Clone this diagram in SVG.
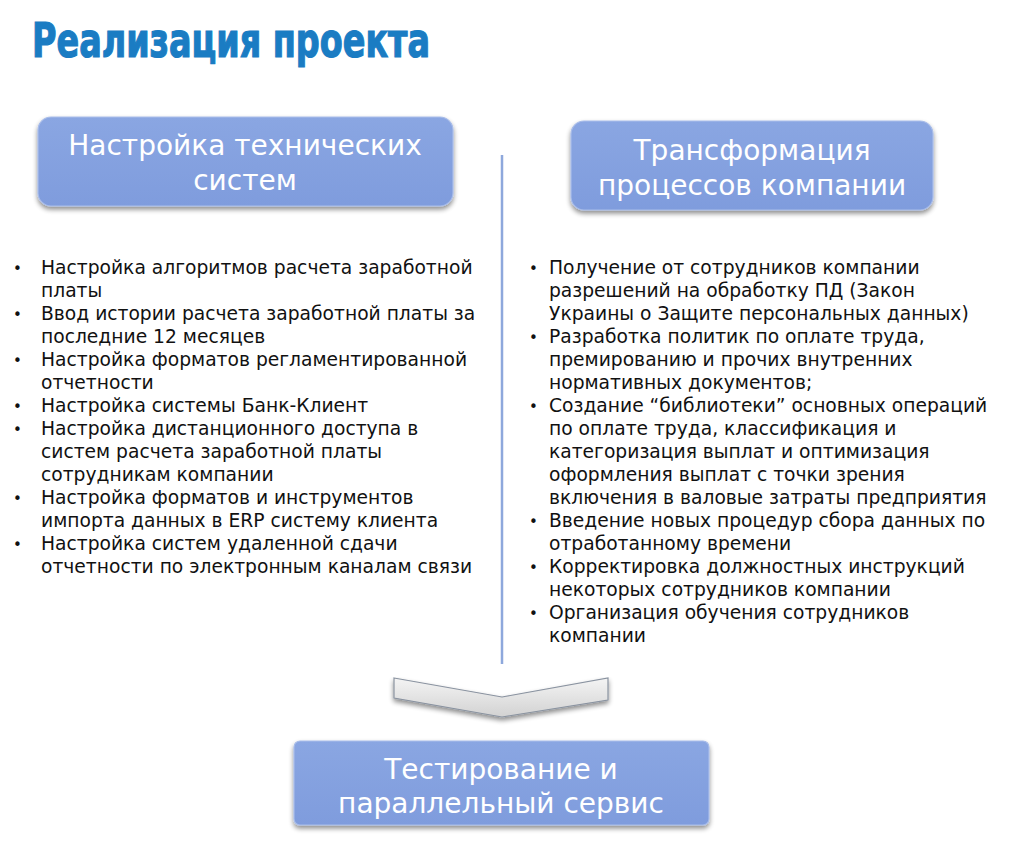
<svg xmlns="http://www.w3.org/2000/svg" width="1024" height="846" viewBox="0 0 1024 846">
<style>
.box{fill:url(#boxg);stroke:#a9bde9;stroke-width:1.2}
.bt{font-family:"DejaVu Sans","Verdana",sans-serif;font-size:28px;fill:#ffffff;text-anchor:middle}
.li{font-family:"DejaVu Sans","Verdana",sans-serif;font-size:18.7px;fill:#111111}
.bu{font-family:"DejaVu Sans",sans-serif;font-size:15px;fill:#111111}
</style>
<defs>
<linearGradient id="boxg" x1="0" y1="0" x2="0" y2="1">
<stop offset="0" stop-color="#8aa6e2"/>
<stop offset="1" stop-color="#7f9cdd"/>
</linearGradient>
<linearGradient id="chev" x1="0" y1="0" x2="0" y2="1">
<stop offset="0" stop-color="#f4f4f4"/>
<stop offset="1" stop-color="#d2d2d2"/>
</linearGradient>
<filter id="sh" x="-10%" y="-10%" width="120%" height="140%">
<feGaussianBlur in="SourceAlpha" stdDeviation="2.5"/>
<feOffset dx="0" dy="3" result="b"/>
<feComponentTransfer><feFuncA type="linear" slope="0.45"/></feComponentTransfer>
<feMerge><feMergeNode/><feMergeNode in="SourceGraphic"/></feMerge>
</filter>
</defs>
<rect width="1024" height="846" fill="#ffffff"/>
<text x="32" y="57" font-family="DejaVu Sans Condensed, DejaVu Sans, sans-serif" font-weight="bold" font-size="48" fill="#1a7cc3" stroke="#1a7cc3" stroke-width="1.2" textLength="398" lengthAdjust="spacingAndGlyphs">Реализация проекта</text>

<g id="connectors">
<line x1="502" y1="155" x2="502" y2="664" stroke="#8ea8dc" stroke-width="2.5"/>
<polygon points="394,678 502,697 608,678 608,700 502,717 394,698" fill="url(#chev)" stroke="#8a93a0" stroke-width="1.2" filter="url(#sh)"/>
</g>

<g id="node-tech">
<rect class="box" x="38" y="117" width="415" height="89" rx="13" filter="url(#sh)"/>
<text class="bt" x="245" y="155">Настройка технических</text>
<text class="bt" x="245" y="190">систем</text>
</g>

<g id="node-transform">
<rect class="box" x="571" y="121" width="362" height="89" rx="13" filter="url(#sh)"/>
<text class="bt" x="752" y="160">Трансформация</text>
<text class="bt" x="752" y="195">процессов компании</text>
</g>

<g id="node-test">
<rect class="box" x="294" y="741" width="415" height="84" rx="6" filter="url(#sh)"/>
<text class="bt" x="501" y="779">Тестирование и</text>
<text class="bt" x="501" y="813">параллельный сервис</text>
</g>

<g id="list-left">
<text class="bu" x="13" y="274">•</text>
<text class="li" x="41" y="274">Настройка алгоритмов расчета заработной</text>
<text class="li" x="41" y="297">платы</text>
<text class="bu" x="13" y="320">•</text>
<text class="li" x="41" y="320">Ввод истории расчета заработной платы за</text>
<text class="li" x="41" y="343">последние 12 месяцев</text>
<text class="bu" x="13" y="366">•</text>
<text class="li" x="41" y="366">Настройка форматов регламентированной</text>
<text class="li" x="41" y="389">отчетности</text>
<text class="bu" x="13" y="412">•</text>
<text class="li" x="41" y="412">Настройка системы Банк-Клиент</text>
<text class="bu" x="13" y="435">•</text>
<text class="li" x="41" y="435">Настройка дистанционного доступа в</text>
<text class="li" x="41" y="458">систем расчета заработной платы</text>
<text class="li" x="41" y="481">сотрудникам компании</text>
<text class="bu" x="13" y="504">•</text>
<text class="li" x="41" y="504">Настройка форматов и инструментов</text>
<text class="li" x="41" y="527">импорта данных в ERP систему клиента</text>
<text class="bu" x="13" y="550">•</text>
<text class="li" x="41" y="550">Настройка систем удаленной сдачи</text>
<text class="li" x="41" y="573">отчетности по электронным каналам связи</text>
</g>

<g id="list-right">
<text class="bu" x="529" y="274">•</text>
<text class="li" x="549" y="274">Получение от сотрудников компании</text>
<text class="li" x="549" y="297">разрешений на обработку ПД (Закон</text>
<text class="li" x="549" y="320">Украины о Защите персональных данных)</text>
<text class="bu" x="529" y="343">•</text>
<text class="li" x="549" y="343">Разработка политик по оплате труда,</text>
<text class="li" x="549" y="366">премированию и прочих внутренних</text>
<text class="li" x="549" y="389">нормативных документов;</text>
<text class="bu" x="529" y="412">•</text>
<text class="li" x="549" y="412">Создание “библиотеки” основных операций</text>
<text class="li" x="549" y="435">по оплате труда, классификация и</text>
<text class="li" x="549" y="458">категоризация выплат и оптимизация</text>
<text class="li" x="549" y="481">оформления выплат с точки зрения</text>
<text class="li" x="549" y="504">включения в валовые затраты предприятия</text>
<text class="bu" x="529" y="527">•</text>
<text class="li" x="549" y="527">Введение новых процедур сбора данных по</text>
<text class="li" x="549" y="550">отработанному времени</text>
<text class="bu" x="529" y="573">•</text>
<text class="li" x="549" y="573">Корректировка должностных инструкций</text>
<text class="li" x="549" y="596">некоторых сотрудников компании</text>
<text class="bu" x="529" y="619">•</text>
<text class="li" x="549" y="619">Организация обучения сотрудников</text>
<text class="li" x="549" y="642">компании</text>
</g>
</svg>
